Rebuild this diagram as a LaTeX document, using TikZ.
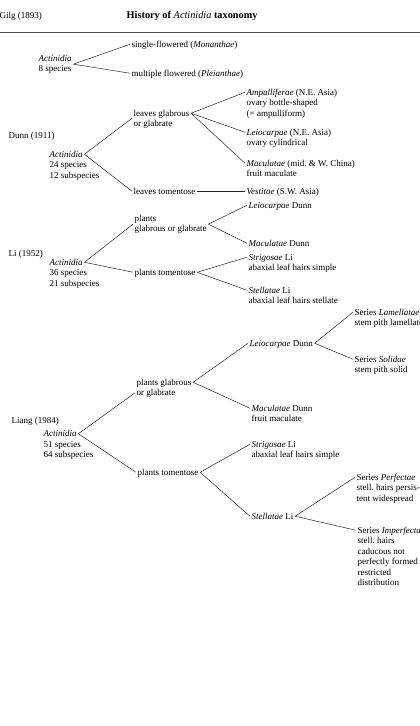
\documentclass[tikz,border=0pt]{standalone}
\usepackage{fontspec}
\setmainfont{Liberation Serif}
% stacked lines, baseline on the first one
\newcommand{\stacked}[1]{\begin{tabular}[t]{@{}l@{}}#1\end{tabular}}
\begin{document}
\begin{tikzpicture}[x=1pt,y=-1pt,
    lab/.style={anchor=base west,inner sep=1.5pt,text height=6.5pt,text depth=1pt,
      font=\fontsize{9}{10.5}\selectfont},
    sub/.style={anchor=base west,inner sep=1.5pt,
      font=\fontsize{9}{10.5}\selectfont}]
  \useasboundingbox (0,0) rectangle (420,726);
  % header
  \node[lab] (auth) at (-2,18) {Gilg (1893)};
  \node[lab,font=\fontsize{10.3}{12}\selectfont\bfseries] (title) at (125,18)
    {History of \textmd{\textit{Actinidia}} taxonomy};
  \draw[black!70,line width=.6pt] (0,32) -- (420,32);
  % Gilg (1893)
  \node[sub] (g) at (37,61) {\stacked{\textit{Actinidia}\\8 species}};
  \node[lab] (g1) at (130,47) {single-flowered (\textit{Monanthae})};
  \node[lab] (g2) at (130,76) {multiple flowered (\textit{Pleianthae})};
  % Dunn (1911)
  \node[lab] (dunn) at (7,138) {Dunn (1911)};
  \node[lab] (d) at (48,157) {\textit{Actinidia}};
  \node[sub] (d-n) at (48,167.5) {\stacked{24 species\\12 subspecies}};
  \node[lab] (d1) at (132,116) {leaves glabrous};
  \node[lab] (d1-n) at (132,126.5) {or glabrate};
  \node[lab] (d2) at (132,194) {leaves tomentose};
  \node[lab] (d11) at (245,95) {\textit{Ampulliferae} (N.E. Asia)};
  \node[sub] (d11-n) at (245,105.5) {\stacked{ovary bottle-shaped\\(= ampulliform)}};
  \node[lab] (d12) at (245,135) {\textit{Leiocarpae} (N.E. Asia)};
  \node[sub] (d12-n) at (245,145.5) {ovary cylindrical};
  \node[lab] (d13) at (245,166) {\textit{Maculatae} (mid.\ \& W. China)};
  \node[sub] (d13-n) at (245,176.5) {fruit maculate};
  \node[lab] (d21) at (245,194) {\textit{Vestitae} (S.W. Asia)};
  % Li (1952)
  \node[lab] (li) at (7,256) {Li (1952)};
  \node[lab] (l) at (48,265) {\textit{Actinidia}};
  \node[sub] (l-n) at (48,275.5) {\stacked{36 species\\21 subspecies}};
  \node[sub] (l1) at (133,221) {\stacked{plants\\glabrous or glabrate}};
  \node[lab] (l2) at (133,275) {plants tomentose};
  \node[lab] (l11) at (247,208) {\textit{Leiocarpae} Dunn};
  \node[lab] (l12) at (247,246) {\textit{Maculatae} Dunn};
  \node[lab] (l21) at (247,260) {\textit{Strigosae} Li};
  \node[sub] (l21-n) at (247,270.5) {abaxial leaf hairs simple};
  \node[lab] (l22) at (247,293) {\textit{Stellatae} Li};
  \node[sub] (l22-n) at (247,303.5) {abaxial leaf hairs stellate};
  % Liang (1984)
  \node[lab] (liang) at (10,423) {Liang (1984)};
  \node[lab] (a) at (42,436.5) {\textit{Actinidia}};
  \node[sub] (a-n) at (42,447) {\stacked{51 species\\64 subspecies}};
  \node[lab] (a1) at (135,385) {plants glabrous};
  \node[lab] (a1-n) at (135,395.5) {or glabrate};
  \node[lab] (a2) at (136,475) {plants tomentose};
  \node[lab] (a11) at (248,346) {\textit{Leiocarpae} Dunn};
  \node[lab] (a12) at (250,411) {\textit{Maculatae} Dunn};
  \node[sub] (a12-n) at (250,421.5) {fruit maculate};
  \node[lab] (a111) at (353,315) {Series \textit{Lamellatae}};
  \node[sub] (a111-n) at (353,325.5) {stem pith lamellate};
  \node[lab] (a112) at (353,362) {Series \textit{Solidae}};
  \node[sub] (a112-n) at (353,372.5) {stem pith solid};
  \node[lab] (a21) at (250,447) {\textit{Strigosae} Li};
  \node[sub] (a21-n) at (250,457.5) {abaxial leaf hairs simple};
  \node[lab] (a22) at (250,519) {\textit{Stellatae} Li};
  \node[lab] (a221) at (355,480) {Series \textit{Perfectae}};
  \node[sub] (a221-n) at (355,490.5) {\stacked{stell.\ hairs persis-\\tent widespread}};
  \node[lab] (a222) at (356,533) {Series \textit{Imperfectae}};
  \node[sub] (a222-n) at (356,543.5)
    {\stacked{stell.\ hairs\\caducous not\\perfectly formed\\restricted\\distribution}};
  \begin{scope}[-,black!85,line width=.5pt]
    \draw (g.east) -- (g1.west);
    \draw (g.east) -- (g2.west);
    \draw (d.east) -- (d1-n.north west);
    \draw (d.east) -- (d2.west);
    \draw (d1.east) -- (d11.west);
    \draw (d1.east) -- (d12.west);
    \draw (d1.east) -- (d13.west);
    \draw (d2.east) -- (d21.west);
    \draw (l.east) -- (l1.west);
    \draw (l.east) -- (l2.west);
    \draw (l1.east) -- (l11.west);
    \draw (l1.east) -- (l12.west);
    \draw (l2.east) -- (l21.west);
    \draw (l2.east) -- (l22.west);
    \draw (a.east) -- (a1-n.west);
    \draw (a.east) -- (a2.west);
    \draw (a1.east) -- (a11.west);
    \draw (a1.east) -- (a12.west);
    \draw (a11.east) -- (a111.west);
    \draw (a11.east) -- (a112.west);
    \draw (a2.east) -- (a21.west);
    \draw (a2.east) -- (a22.west);
    \draw (a22.east) -- (a221.west);
    \draw (a22.east) -- (a222.west);
  \end{scope}
\end{tikzpicture}
\end{document}
